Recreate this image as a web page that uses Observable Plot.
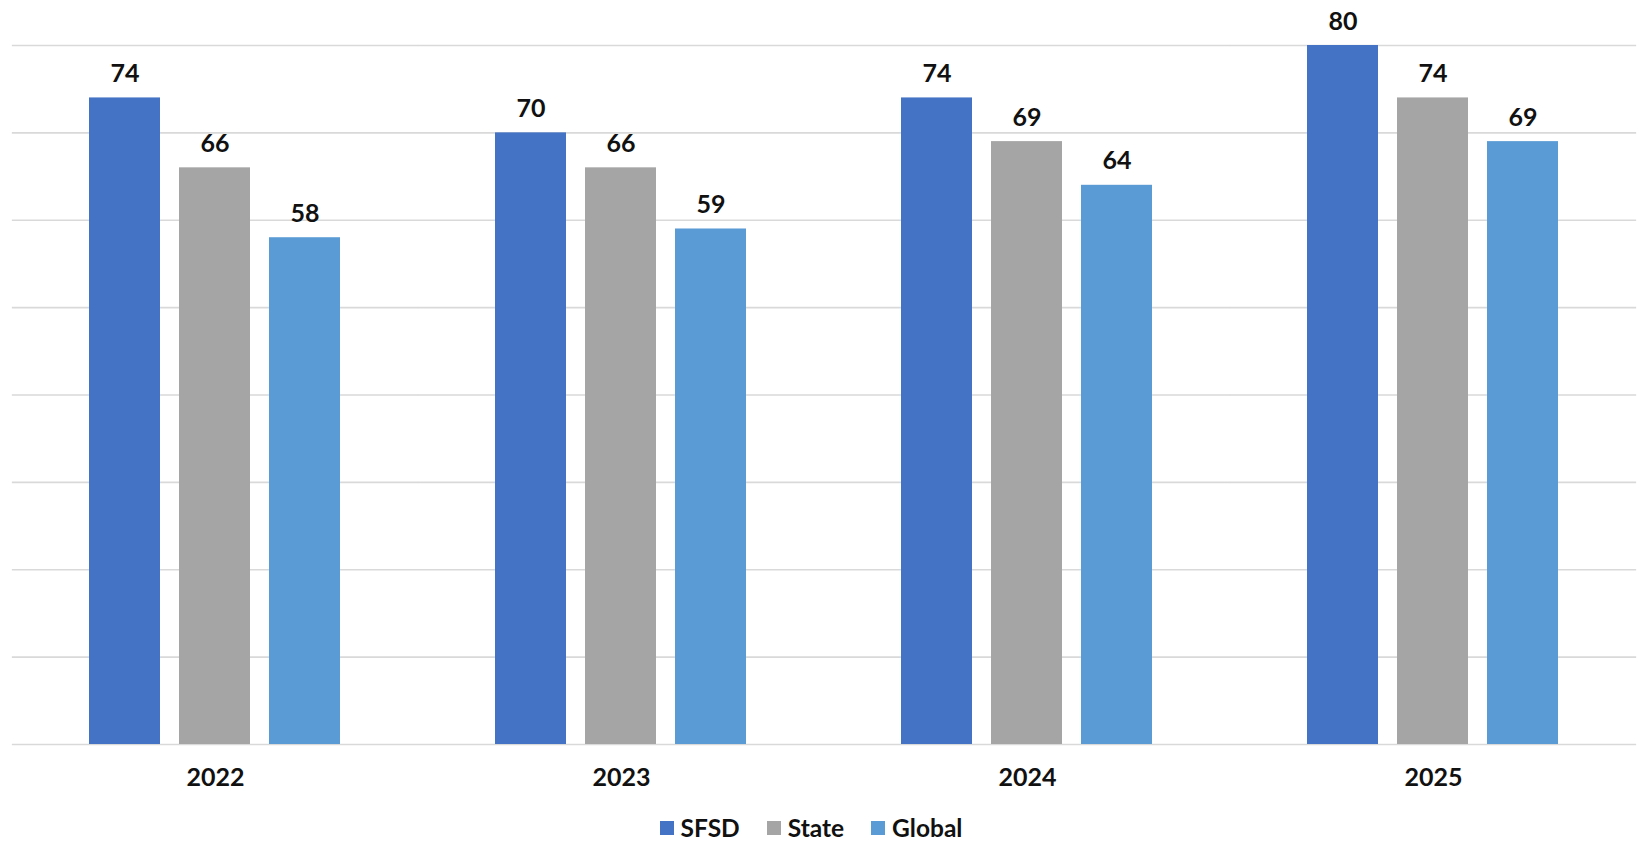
<!DOCTYPE html>
<html>
<head>
<meta charset="utf-8">
<script src="https://cdn.jsdelivr.net/npm/d3@7"></script>
<script src="https://cdn.jsdelivr.net/npm/@observablehq/plot@0.6"></script>
<style>
  html, body { margin: 0; padding: 0; background: #fff; }
  #chart { width: 1640px; height: 800px; }
  #legend { width: 1622px; padding-right: 18px; padding-top: 13px; display: flex; justify-content: center; }
  .lg-swatches { margin: 0 !important; min-height: 0 !important; }
  .lg-swatch { margin-right: 27px !important; }
  .lg-swatch:last-child { margin-right: 0 !important; }
  .lg-swatch svg { margin-right: 7px !important; }
</style>
</head>
<body>
<div id="chart"></div>
<div id="legend"></div>
<script>
const years = ["2022", "2023", "2024", "2025"];
const seriesNames = ["SFSD", "State", "Global"];
const sfsdValues = [74, 70, 74, 80];
const stateValues = [66, 66, 69, 74];
const globalValues = [58, 59, 64, 69];
const yTicks = [0, 10, 20, 30, 40, 50, 60, 70, 80];
const colors = ["#4472C4", "#A5A5A5", "#5B9BD5"];

const seriesValues = [sfsdValues, stateValues, globalValues];
const data = [];
years.forEach((year, i) => {
  seriesNames.forEach((s, j) => {
    data.push({year, series: s, value: seriesValues[j][i]});
  });
});

const fontFamily = "Lato, 'Open Sans', sans-serif";
const W = 1640, mL = 12, mR = 4;
const fxInner = 0.38, fxOuter = 0.19;
// half of the gap between facet bands, so that per-facet gridlines join up
const step = (W - mL - mR) / (years.length - fxInner + 2 * fxOuter);
const ext = -fxOuter * step;

const chart = Plot.plot({
  width: W,
  height: 800,
  marginLeft: mL,
  marginRight: mR,
  marginTop: 45,
  marginBottom: 56,
  style: {fontFamily, fontSize: "25px", fontWeight: 700, color: "#111", background: "#fff"},
  fx: {domain: years, paddingInner: fxInner, paddingOuter: fxOuter, axis: "bottom", tickSize: 0, tickPadding: 24, label: null},
  x: {domain: seriesNames, paddingInner: 0.21, paddingOuter: 0, axis: null},
  y: {domain: [0, 80], axis: null},
  color: {domain: seriesNames, range: colors},
  marks: [
    Plot.ruleY(yTicks, {stroke: "#D9D9D9", strokeWidth: 1.6, insetLeft: ext, insetRight: ext}),
    Plot.barY(data, {fx: "year", x: "series", y: "value", fill: "series"}),
    Plot.text(data, {fx: "year", x: "series", y: "value", text: d => String(d.value),
      lineAnchor: "bottom", dy: -16, fontSize: 25, fontWeight: 700, fill: "#111"})
  ]
});
document.getElementById("chart").appendChild(chart);

const legend = Plot.legend({
  color: {domain: seriesNames, range: colors},
  legend: "swatches",
  swatchSize: 14,
  className: "lg",
  style: {fontFamily, fontSize: "24.5px", fontWeight: 700, color: "#111"}
});
document.getElementById("legend").appendChild(legend);
</script>
</body>
</html>
